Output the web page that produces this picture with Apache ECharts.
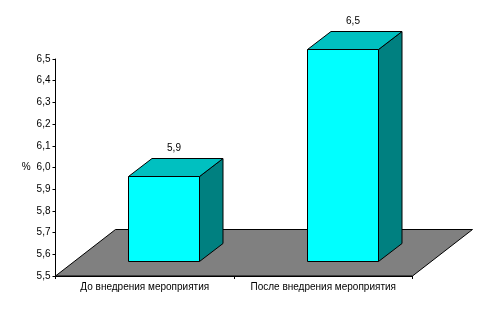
<!DOCTYPE html>
<html>
<head>
<meta charset="utf-8">
<script src="https://cdn.jsdelivr.net/npm/echarts@6/dist/echarts.min.js"></script>
<style>html,body{margin:0;padding:0;background:#fff}#c{width:497px;height:309px}</style>
</head>
<body>
<div id="c"></div>
<script>
const categories = ['До внедрения мероприятия', 'После внедрения мероприятия'];
const values = [5.9, 6.5];
const yMin = 5.5, yMax = 6.5, yStep = 0.1;
const yName = '%';

const fmt = v => Number(v).toFixed(1).replace('.', ',');
const FONT = "'Liberation Sans', Arial, sans-serif";
const DX = 23.5, DY = 18;        // bar depth offset (px)
const FDX = 60, FDY = 46.5;      // floor depth offset (px)

const chart = echarts.init(document.getElementById('c'), null, {renderer: 'canvas'});
chart.setOption({
  animation: false,
  backgroundColor: '#ffffff',
  textStyle: {fontFamily: FONT},
  grid: [
    {left: 55.5, right: 84.5, top: 59, bottom: 33},
    {left: 74.6, right: 65.6, top: 49.3, bottom: 48}
  ],
  xAxis: [
    {
      type: 'category', gridIndex: 0, data: categories, boundaryGap: true,
      axisLine: {lineStyle: {color: '#000', width: 1}},
      axisTick: {show: true, length: 3, interval: 0, lineStyle: {color: '#000'}},
      axisLabel: {color: '#000', fontSize: 10, fontFamily: FONT, margin: 6, interval: 0, hideOverlap: false},
      splitLine: {show: false}
    },
    {type: 'category', gridIndex: 1, data: categories, show: false}
  ],
  yAxis: [
    {
      type: 'value', gridIndex: 0, min: yMin, max: yMax, interval: yStep,
      name: yName, nameLocation: 'middle', nameRotate: 0, nameGap: 24,
      nameTextStyle: {color: '#000', fontSize: 10, fontFamily: FONT},
      axisLine: {show: true, lineStyle: {color: '#000', width: 1}},
      axisTick: {show: true, length: 3, lineStyle: {color: '#000'}},
      axisLabel: {color: '#000', fontSize: 10, fontFamily: FONT, margin: 5, formatter: fmt},
      splitLine: {show: false}
    },
    {type: 'value', gridIndex: 1, min: yMin, max: yMax, show: false}
  ],
  series: [
    {
      type: 'custom', xAxisIndex: 0, yAxisIndex: 0, clip: false, z: 1, silent: true,
      data: [[0, yMin]],
      renderItem: function (params, api) {
        const cs = params.coordSys;
        const yb = cs.y + cs.height, xl = cs.x, xr = cs.x + cs.width;
        return {
          type: 'polygon',
          shape: {points: [[xl, yb], [xr, yb], [xr + FDX, yb - FDY], [xl + FDX, yb - FDY]]},
          style: {fill: '#808080', stroke: '#000', lineWidth: 1}
        };
      }
    },
    {
      type: 'custom', xAxisIndex: 1, yAxisIndex: 1, clip: false, z: 3, silent: true,
      data: values.map((v, i) => [i, v]),
      renderItem: function (params, api) {
        const v = api.value(1);
        const top = api.coord([api.value(0), v]);
        const base = api.coord([api.value(0), yMin]);
        const bw = api.size([1, 0])[0] * 0.398;
        const x0 = Math.round(top[0] - bw / 2) + 0.5, x1 = Math.round(top[0] + bw / 2) + 0.5;
        const y0 = Math.round(top[1]) + 0.5, y1 = Math.round(base[1]) + 0.5;
        const st = {stroke: '#000', lineWidth: 1};
        return {
          type: 'group',
          children: [
            {type: 'polygon', shape: {points: [[x1, y0], [x1 + DX, y0 - DY], [x1 + DX, y1 - DY], [x1, y1]]},
             style: Object.assign({fill: '#008080'}, st)},
            {type: 'polygon', shape: {points: [[x0, y0], [x1, y0], [x1 + DX, y0 - DY], [x0 + DX, y0 - DY]]},
             style: Object.assign({fill: '#00C0C0'}, st)},
            {type: 'rect', shape: {x: x0, y: y0, width: x1 - x0, height: y1 - y0},
             style: Object.assign({fill: '#00FFFF'}, st)},
            {type: 'text', x: (x0 + x1) / 2 + 10, y: y0 - DY - 10,
             style: {text: fmt(v), fill: '#000', font: '10px ' + FONT, align: 'center', verticalAlign: 'middle'}}
          ]
        };
      }
    }
  ]
});
</script>
</body>
</html>
